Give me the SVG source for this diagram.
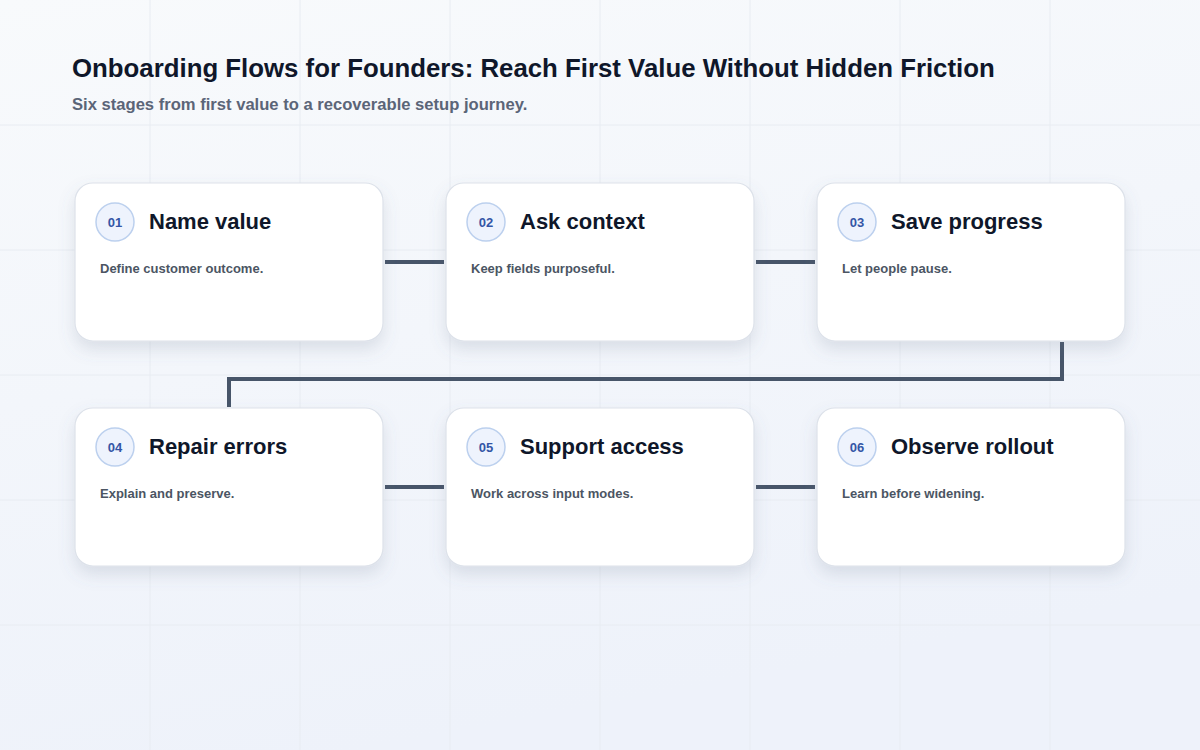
<svg xmlns="http://www.w3.org/2000/svg" width="1200" height="750" viewBox="0 0 1200 750">
<defs>
<linearGradient id="bg" x1="0" y1="0" x2="0.3" y2="1">
<stop offset="0" stop-color="#f8fafc"/>
<stop offset="1" stop-color="#eef2fa"/>
</linearGradient>
<filter id="sh" x="-20%" y="-20%" width="140%" height="150%">
<feDropShadow dx="0" dy="8" stdDeviation="8" flood-color="#64748b" flood-opacity="0.18"/>
</filter>
<style>
.card{fill:#ffffff;stroke:#dde2ea;stroke-width:1.2;filter:url(#sh)}
.badge{fill:#eef3fd;stroke:#bcd0ee;stroke-width:1.5}
.num{font-family:"Liberation Sans",Arial,sans-serif;font-size:13px;font-weight:700;fill:#3456a6;text-anchor:middle}
.ttl{font-family:"Liberation Sans",Arial,sans-serif;font-size:22px;font-weight:700;fill:#0f172a}
.dsc{font-family:"Liberation Sans",Arial,sans-serif;font-size:13px;font-weight:700;fill:#4b5563}
.conn{fill:none;stroke:#475569;stroke-width:4}
.grid{stroke:#e8ecf2;stroke-width:1}
</style>
</defs>
<rect width="1200" height="750" fill="url(#bg)"/>
<g id="grid">
<line class="grid" x1="150" y1="0" x2="150" y2="750"/>
<line class="grid" x1="300" y1="0" x2="300" y2="750"/>
<line class="grid" x1="450" y1="0" x2="450" y2="750"/>
<line class="grid" x1="600" y1="0" x2="600" y2="750"/>
<line class="grid" x1="750" y1="0" x2="750" y2="750"/>
<line class="grid" x1="900" y1="0" x2="900" y2="750"/>
<line class="grid" x1="1050" y1="0" x2="1050" y2="750"/>
<line class="grid" x1="0" y1="125" x2="1200" y2="125"/>
<line class="grid" x1="0" y1="250" x2="1200" y2="250"/>
<line class="grid" x1="0" y1="375" x2="1200" y2="375"/>
<line class="grid" x1="0" y1="500" x2="1200" y2="500"/>
<line class="grid" x1="0" y1="625" x2="1200" y2="625"/>
</g>
<g id="header">
<text x="72" y="77" font-family="Liberation Sans, Arial, sans-serif" font-size="25.8" font-weight="700" fill="#0f172a">Onboarding Flows for Founders: Reach First Value Without Hidden Friction</text>
<text x="72" y="110" font-family="Liberation Sans, Arial, sans-serif" font-size="16.6" font-weight="700" fill="#5b6578">Six stages from first value to a recoverable setup journey.</text>
</g>
<g id="connectors">
<line class="conn" x1="385" y1="262" x2="444" y2="262"/>
<line class="conn" x1="756" y1="262" x2="815" y2="262"/>
<polyline class="conn" points="1062,342 1062,379 229,379 229,407"/>
<line class="conn" x1="385" y1="487" x2="444" y2="487"/>
<line class="conn" x1="756" y1="487" x2="815" y2="487"/>
</g>
<g id="node1">
<rect class="card" x="75" y="183" width="308" height="158" rx="18"/>
<circle class="badge" cx="115" cy="222" r="19"/>
<text class="num" x="115" y="227">01</text>
<text class="ttl" x="149" y="229">Name value</text>
<text class="dsc" x="100" y="273">Define customer outcome.</text>
</g>
<g id="node2">
<rect class="card" x="446" y="183" width="308" height="158" rx="18"/>
<circle class="badge" cx="486" cy="222" r="19"/>
<text class="num" x="486" y="227">02</text>
<text class="ttl" x="520" y="229">Ask context</text>
<text class="dsc" x="471" y="273">Keep fields purposeful.</text>
</g>
<g id="node3">
<rect class="card" x="817" y="183" width="308" height="158" rx="18"/>
<circle class="badge" cx="857" cy="222" r="19"/>
<text class="num" x="857" y="227">03</text>
<text class="ttl" x="891" y="229">Save progress</text>
<text class="dsc" x="842" y="273">Let people pause.</text>
</g>
<g id="node4">
<rect class="card" x="75" y="408" width="308" height="158" rx="18"/>
<circle class="badge" cx="115" cy="447" r="19"/>
<text class="num" x="115" y="452">04</text>
<text class="ttl" x="149" y="454">Repair errors</text>
<text class="dsc" x="100" y="498">Explain and preserve.</text>
</g>
<g id="node5">
<rect class="card" x="446" y="408" width="308" height="158" rx="18"/>
<circle class="badge" cx="486" cy="447" r="19"/>
<text class="num" x="486" y="452">05</text>
<text class="ttl" x="520" y="454">Support access</text>
<text class="dsc" x="471" y="498">Work across input modes.</text>
</g>
<g id="node6">
<rect class="card" x="817" y="408" width="308" height="158" rx="18"/>
<circle class="badge" cx="857" cy="447" r="19"/>
<text class="num" x="857" y="452">06</text>
<text class="ttl" x="891" y="454">Observe rollout</text>
<text class="dsc" x="842" y="498">Learn before widening.</text>
</g>
</svg>
